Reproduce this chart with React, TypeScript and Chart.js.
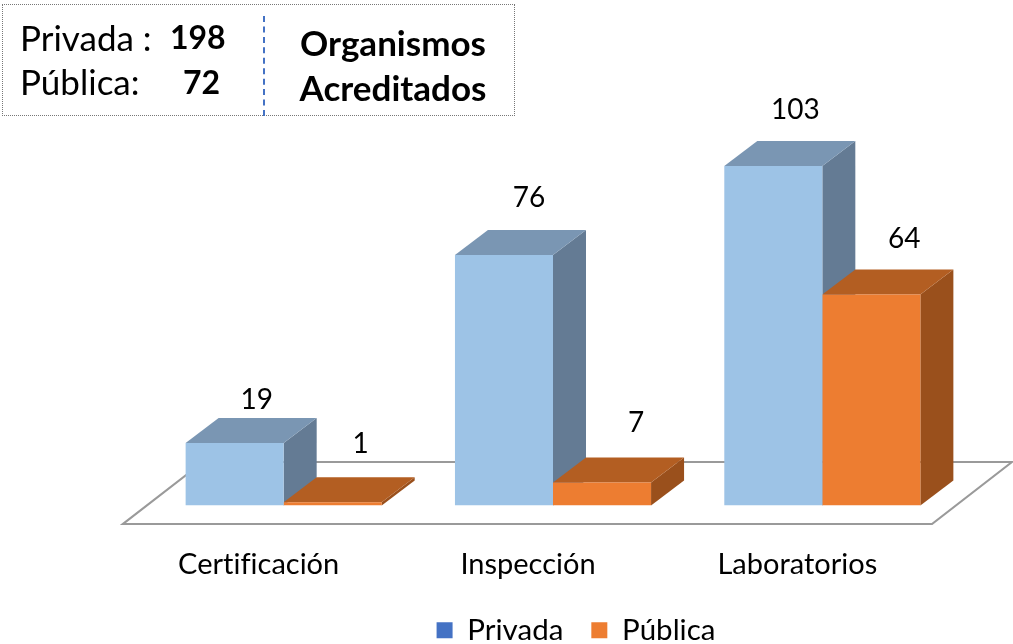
import React, { useEffect, useRef } from "react";
import { Chart, registerables } from "chart.js";

Chart.register(...registerables);

const categories = ["Certificación", "Inspección", "Laboratorios"];
const privada = [19, 76, 103];
const publica = [1, 7, 64];
const seriesNames = ["Privada", "Pública"];
const totals = [198, 72];

const FONT = "Lato, Carlito, sans-serif";
const DEPTH_X = 33;
const DEPTH_Y = 25;
const FACES = [
  { front: "#9DC3E6", top: "#7A96B3", side: "#647B94", legend: "#4472C4" },
  { front: "#ED7D31", top: "#B35E22", side: "#9A501C", legend: "#ED7D31" },
];
// label offsets from each bar's top centre
const LABEL_DX = [[22, 25, 22], [28, 34, 33]];
const LABEL_DY = [[-43, -57, -56], [-58, -59, -56]];

const poly = (ctx: CanvasRenderingContext2D, pts: number[][], fill: string) => {
  ctx.beginPath();
  pts.forEach(([x, y], i) => (i ? ctx.lineTo(x, y) : ctx.moveTo(x, y)));
  ctx.closePath();
  ctx.fillStyle = fill;
  ctx.fill();
};

const bars3d = {
  id: "bars3d",
  afterLayout(chart: any) {
    // the legend is centred on the page's lower band, not on the floor
    chart.legend.left += 23;
    chart.legend.right += 23;
  },
  beforeDraw(chart: any) {
    chart.ctx.textRendering = "optimizeSpeed";
  },
  beforeDatasetsDraw(chart: any) {
    const { ctx, chartArea: a } = chart;
    // floor
    ctx.save();
    const fy = a.bottom + 18.5;
    const fl = a.left - 26;
    const fr = a.right - 25;
    ctx.beginPath();
    ctx.moveTo(fl, fy);
    ctx.lineTo(fr, fy);
    ctx.lineTo(fr + 80, fy - 62);
    ctx.lineTo(fl + 80, fy - 62);
    ctx.closePath();
    ctx.strokeStyle = "#9A9A9A";
    ctx.lineWidth = 2.2;
    ctx.stroke();
    chart.data.datasets.forEach((_: any, di: number) => {
      const f = FACES[di];
      chart.getDatasetMeta(di).data.forEach((el: any) => {
        const l = el.x - el.width / 2;
        const r = el.x + el.width / 2;
        const t = el.y;
        const b = el.base;
        poly(ctx, [[r, t], [r + DEPTH_X, t - DEPTH_Y], [r + DEPTH_X, b - DEPTH_Y], [r, b]], f.side);
        poly(ctx, [[l, t], [l + DEPTH_X, t - DEPTH_Y], [r + DEPTH_X, t - DEPTH_Y], [r, t]], f.top);
      });
    });
    ctx.restore();
  },
  afterDatasetsDraw(chart: any) {
    const { ctx } = chart;
    ctx.save();
    ctx.font = `28px ${FONT}`;
    ctx.fillStyle = "#000";
    ctx.textAlign = "center";
    ctx.textBaseline = "middle";
    chart.data.datasets.forEach((ds: any, di: number) => {
      chart.getDatasetMeta(di).data.forEach((el: any, i: number) => {
        ctx.fillText(String(ds.data[i]), el.x + LABEL_DX[di][i], el.y + LABEL_DY[di][i]);
      });
    });
    ctx.restore();
  },
};

const abs = (x: number, y: number, extra: React.CSSProperties = {}): React.CSSProperties => ({
  position: "absolute",
  left: x,
  top: y,
  whiteSpace: "nowrap",
  lineHeight: "40px",
  color: "#000",
  ...extra,
});

export default function App() {
  const ref = useRef<HTMLCanvasElement>(null);
  useEffect(() => {
    const chart = new Chart(ref.current!, {
      type: "bar",
      data: {
        labels: categories,
        datasets: [
          { label: seriesNames[0], data: privada, backgroundColor: FACES[0].front },
          { label: seriesNames[1], data: publica, backgroundColor: FACES[1].front },
        ],
      },
      plugins: [bars3d],
      options: {
        responsive: false,
        animation: false,
        layout: { padding: { left: 149, right: 56, top: 110, bottom: -11 } },
        datasets: { bar: { categoryPercentage: 0.728, barPercentage: 1 } },
        scales: {
          x: {
            grid: { display: false },
            border: { display: false },
            afterFit: (s: any) => { s.height = 82; },
            ticks: { padding: 34, labelOffset: -25, maxRotation: 0, color: "#000", font: { family: FONT, size: 29 } },
          },
          y: { display: false, min: 0, max: 120 },
        },
        plugins: {
          tooltip: { enabled: false },
          legend: {
            position: "bottom",
            labels: {
              boxWidth: 16,
              boxHeight: 16,
              padding: 28,
              color: "#000",
              font: { family: FONT, size: 29.5 },
              generateLabels: (c: any) =>
                c.data.datasets.map((d: any, i: number) => ({
                  text: d.label,
                  fillStyle: FACES[i].legend,
                  strokeStyle: FACES[i].legend,
                  lineWidth: 0,
                  datasetIndex: i,
                  fontColor: "#000",
                })),
            },
          },
        },
      } as any,
    });
    return () => chart.destroy();
  }, []);
  return (
    <div style={{ position: "fixed", left: 0, top: 0, width: 1013, height: 644, background: "#fff", overflow: "hidden", fontFamily: FONT, fontSize: 35 }}>
      <canvas ref={ref} width={1013} height={644} style={{ display: "block" }} />
      <div style={{ position: "absolute", left: 2, top: 4, width: 511, height: 110, border: "1px dotted #777" }} />
      <div style={{ position: "absolute", left: 263, top: 16, height: 100, borderLeft: "2px dashed #4472C4" }} />
      <span style={abs(20, 17)}>{seriesNames[0]} :</span>
      <span style={abs(170, 17, { fontWeight: 700, fontSize: 32 })}>{totals[0]}</span>
      <span style={abs(20, 61)}>{seriesNames[1]}:</span>
      <span style={abs(183, 62, { fontWeight: 700, fontSize: 32 })}>{totals[1]}</span>
      <span style={abs(263, 22, { width: 260, textAlign: "center", fontWeight: 700 })}>Organismos</span>
      <span style={abs(263, 67, { width: 260, textAlign: "center", fontWeight: 700 })}>Acreditados</span>
    </div>
  );
}
